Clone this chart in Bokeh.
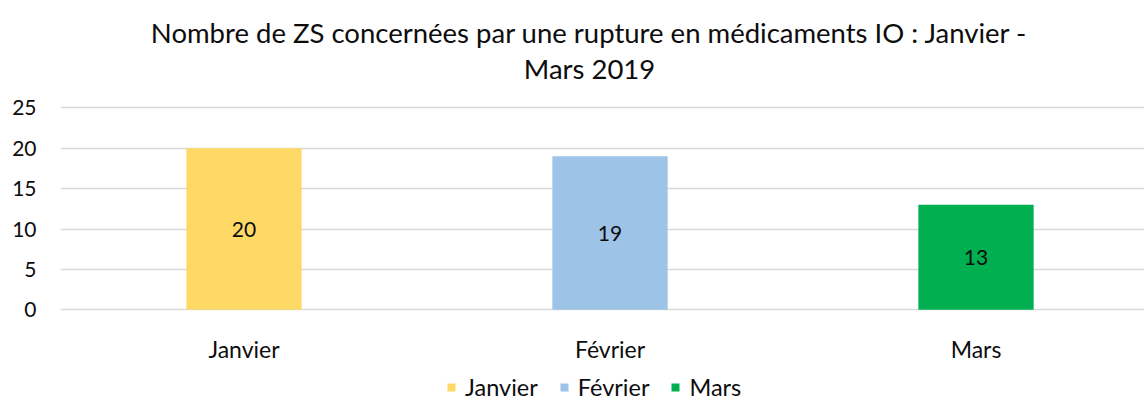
from bokeh.plotting import figure
from bokeh.models import Range1d, FixedTicker, ColumnDataSource, Legend, LegendItem
from bokeh.core.properties import value
from bokeh.embed import file_html
from bokeh.resources import INLINE

# ---- data ----
months = ["Janvier", "Février", "Mars"]
counts = [20, 19, 13]
colors = ["#FFD966", "#9DC3E6", "#00B050"]
y_ticks = [0, 5, 10, 15, 20, 25]
title_lines = ["Nombre de ZS concernées par une rupture en médicaments IO : Janvier -",
               "Mars 2019"]

FONT = "Lato"
TXT = "#0d0d0d"
W, H = 1144, 402

# ---- pixel layout (page pixels -> data units) ----
FRAME_LEFT = 60
X0_PX, X_STEP_PX = 243.5, 366.0      # centre of first category, category spacing
Y0_PX, Y25_PX = 309.3, 107.3         # pixel rows of value 0 and 25
YS = (Y0_PX - Y25_PX) / 25.0

def xd(px):
    return (px - X0_PX) / X_STEP_PX

def yd(py):
    return (Y0_PX - py) / YS

xs = list(range(len(months)))
src = ColumnDataSource(dict(x=xs, top=counts, color=colors, month=months,
                            mid=[c / 2 for c in counts], lbl=[str(c) for c in counts]))

p = figure(width=W, height=H, output_backend="svg", toolbar_location=None,
           x_range=Range1d(xd(FRAME_LEFT), xd(W)), y_range=Range1d(yd(H), yd(0)),
           x_axis_location=None,
           min_border_left=FRAME_LEFT, min_border_right=0, min_border_top=0, min_border_bottom=0)
p.outline_line_color = None
p.background_fill_color = "white"
p.border_fill_color = "white"

bars = p.vbar(x="x", top="top", bottom=0, width=0.315, source=src,
              fill_color="color", line_color=None)

# values inside the bars
p.text(x="x", y="mid", text="lbl", source=src, text_align="center",
       text_baseline="middle", text_font=value(FONT), text_font_size="21px",
       text_color=TXT)

# category labels under the bars
p.text(x="x", y=yd(348), text="month", source=src, text_align="center",
       text_baseline="alphabetic", text_font=value(FONT), text_font_size="23px",
       text_color=TXT)

# two-line title
tsrc = ColumnDataSource(dict(x=[xd(589), xd(589)], y=[yd(31.7), yd(68.3)], t=title_lines))
p.text(x="x", y="y", text="t", source=tsrc, text_align="center",
       text_baseline="alphabetic", text_font=value(FONT), text_font_size="27.5px",
       text_color=TXT)

# y axis
p.yaxis.ticker = FixedTicker(ticks=y_ticks)
p.ygrid.ticker = FixedTicker(ticks=y_ticks)
p.yaxis.axis_line_color = None
p.yaxis.major_tick_line_color = None
p.yaxis.minor_tick_line_color = None
p.yaxis.major_tick_out = 0
p.yaxis.major_label_standoff = 24
p.yaxis.major_label_text_font = FONT
p.yaxis.major_label_text_font_size = "21px"
p.yaxis.major_label_text_color = TXT

p.xgrid.grid_line_color = None
p.ygrid.grid_line_color = "#D9D9D9"
p.ygrid.grid_line_width = 1.5

legend = Legend(items=[LegendItem(label=months[i], renderers=[bars], index=i) for i in xs],
                orientation="horizontal", location=(386, 1),
                glyph_width=10, glyph_height=10, label_standoff=9, spacing=21,
                label_text_font=FONT, label_text_font_size="23.5px", label_text_color=TXT,
                border_line_color=None, background_fill_alpha=0, padding=0, margin=0)
p.add_layout(legend, "center")

open("out.html", "w").write(file_html(p, INLINE))
